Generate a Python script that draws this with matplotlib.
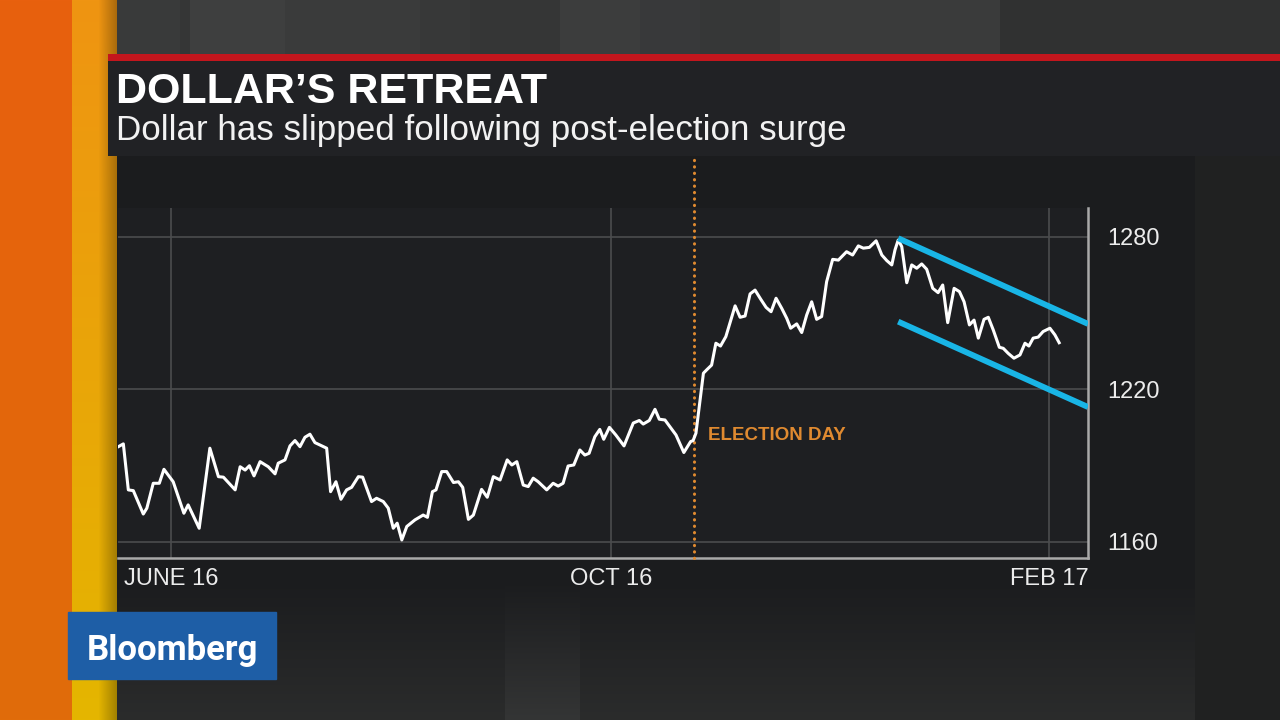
import numpy as np
import matplotlib
matplotlib.use('Agg')
import matplotlib.pyplot as plt
import matplotlib.dates as mdates
from matplotlib.colors import to_rgb
from matplotlib.patches import Rectangle

# Bloomberg dollar spot index (days counted from 2016-05-31)
start_date = '2016-05-31'
day_offsets = [
    0.1, 1.5, 2.9, 4.3, 7.1, 8.1, 9.9, 11.6, 12.9, 15.5, 18.5, 19.7, 22.8, 25.8,
    28.2, 29.6, 32.9, 34.3, 35.7, 36.9, 38.2, 39.9, 42.2, 44.1, 45.0, 46.9, 48.3,
    49.7, 51.1, 52.5, 53.9, 55.3, 58.6, 59.7, 61.2, 62.6, 64.2, 65.6, 67.5, 68.7,
    71.2, 72.6, 74.5, 75.9, 77.3, 78.4, 79.7, 81.1, 83.4, 85.7, 86.9, 88.3, 89.3,
    90.9, 92.3, 94.2, 95.6, 96.8, 98.4, 99.8, 102.1, 103.7, 105.4, 107.3, 109.3,
    110.6, 112.0, 113.8, 115.2, 116.6, 118.0, 120.4, 122.2, 123.6, 125.0, 126.4,
    128.0, 129.7, 131.1, 132.3, 133.9, 135.3, 136.4, 138.0, 139.8, 142.1, 144.7,
    146.4, 147.5, 149.2, 150.8, 152.0, 153.6, 156.7, 158.9, 160.8, 161.5, 162.3,
    164.4, 165.3, 166.7, 167.9, 169.2, 170.7, 172.1, 173.3, 174.7, 176.1, 177.5,
    178.9, 180.5, 182.0, 183.4, 184.8, 186.4, 187.8, 188.9, 190.6, 192.0, 193.4,
    194.8, 196.2, 197.6, 199.0, 200.7, 202.3, 204.6, 206.3, 207.9, 209.3, 211.0,
    212.9, 214.5, 215.9, 217.3, 218.2, 219.1, 220.1, 221.5, 222.9, 224.3, 225.7,
    227.1, 228.8, 230.3, 231.6, 233.0, 234.8, 236.3, 237.6, 239.1, 240.4, 241.6,
    243.2, 244.4, 245.8, 247.5, 248.6, 250.0, 251.6, 253.3, 254.7, 255.8, 257.0,
    258.4, 259.8, 261.7, 263.1, 264.3,
]
dollar_index = [
    1197.5, 1198.6, 1180.5, 1180.2, 1171.0, 1173.3, 1183.1, 1183.1, 1188.6, 1183.7,
    1171.3, 1174.6, 1165.4, 1196.9, 1185.7, 1185.5, 1180.5, 1189.6, 1188.3, 1190.0,
    1186.0, 1191.6, 1189.6, 1186.8, 1191.0, 1192.3, 1197.8, 1199.9, 1197.5, 1201.2,
    1202.4, 1199.1, 1196.9, 1179.8, 1183.7, 1176.8, 1180.5, 1181.5, 1185.7, 1185.5,
    1175.9, 1177.2, 1175.9, 1173.3, 1165.4, 1167.4, 1160.8, 1166.1, 1168.7, 1170.6,
    1169.7, 1179.8, 1180.5, 1187.7, 1187.7, 1183.4, 1183.7, 1181.5, 1168.9, 1170.6,
    1180.7, 1177.6, 1185.7, 1184.4, 1192.3, 1190.3, 1191.6, 1182.4, 1181.8, 1185.1,
    1183.7, 1180.5, 1183.1, 1182.0, 1183.1, 1189.9, 1190.3, 1196.2, 1194.2, 1194.9,
    1201.4, 1204.3, 1200.4, 1205.1, 1202.1, 1197.8, 1206.8, 1207.8, 1206.4, 1207.8,
    1212.2, 1208.3, 1208.0, 1202.1, 1195.2, 1199.5, 1199.9, 1202.8, 1226.4, 1227.7,
    1229.6, 1238.2, 1237.1, 1240.8, 1247.3, 1252.9, 1248.4, 1248.9, 1257.6, 1259.1,
    1255.5, 1252.3, 1250.6, 1255.9, 1251.9, 1248.0, 1244.1, 1245.8, 1242.4, 1249.3,
    1254.5, 1247.6, 1248.7, 1262.4, 1271.2, 1270.9, 1274.2, 1272.9, 1276.5, 1275.6,
    1275.9, 1278.5, 1272.9, 1270.7, 1269.0, 1274.9, 1278.8, 1276.2, 1262.0, 1269.0,
    1267.7, 1269.4, 1267.3, 1259.8, 1258.1, 1261.1, 1246.3, 1259.8, 1258.5, 1254.5,
    1245.4, 1247.3, 1240.2, 1247.6, 1248.4, 1243.4, 1236.6, 1236.2, 1234.2, 1232.3,
    1233.6, 1238.2, 1237.1, 1240.2, 1240.6, 1242.8, 1244.1, 1241.5, 1238.4,
]

# downward channel drawn over the post-peak decline
channel_days = [219.1, 272.4]
channel_top = [1279.5, 1245.8]
channel_bottom = [1246.7, 1213.1]

election_date = '2016-11-08 18:00'
election_label_value = 1201.7
tick_dates = ['2016-06-15', '2016-10-16 12:00', '2017-02-16 12:00']
tick_labels = ['JUNE 16', 'OCT 16', 'FEB 17']
y_ticks = [1160, 1220, 1280]

W, H = 1280, 720
plt.rcParams['font.family'] = ['Liberation Sans', 'DejaVu Sans']

fig = plt.figure(figsize=(W / 100, H / 100), dpi=100)

# ---- TV-graphic background (pixel coordinates) ----
bg = fig.add_axes([0, 0, 1, 1], zorder=0)
bg.set_xlim(0, W)
bg.set_ylim(H, 0)
bg.axis('off')

img = np.zeros((H, W, 3))
img[:] = to_rgb('#2a2b2c')
t = np.linspace(0, 1, H)[:, None]

# grey stripes in the top band
stripe_x = [110, 180, 190, 285, 420, 470, 560, 640, 700, 780, 1000, 1280]
stripe_c = ['#393a3a', '#353636', '#3e3f3f', '#3a3b3b', '#373838', '#353636',
            '#3c3d3d', '#38393a', '#363737', '#3a3b3b', '#303131']
for x_a, x_b, c in zip(stripe_x[:-1], stripe_x[1:], stripe_c):
    img[:54, x_a:x_b] = to_rgb(c)

# orange and yellow strips on the left
o_top, o_bot = np.array(to_rgb('#e8600e')), np.array(to_rgb('#e06c0a'))
img[:, 0:72] = (o_top + (o_bot - o_top) * t)[:, None, :]
y_top, y_bot = np.array(to_rgb('#ef9412')), np.array(to_rgb('#e4b600'))
strip = (y_top + (y_bot - y_top) * t)[:, None, :]
shade = np.clip(1 - (np.arange(72, 117) - 98) / 19 * 0.3, 0.7, 1.0)[None, :, None]
img[:, 72:117] = strip * shade

# red rule, title panel, chart panel
img[54:61, 108:] = to_rgb('#c3161d')
img[61:156, 108:] = to_rgb('#212225')
p_top, p_bot = np.array(to_rgb('#1b1c1e')), np.array(to_rgb('#2b2c2c'))
ramp = np.clip((np.arange(H) - 580) / 140, 0, 1)[:, None]
img[156:, 117:1195] = (p_top + (p_bot - p_top) * ramp)[156:, None, :]
band = np.array(to_rgb('#343535'))
img[156:, 505:580] = (p_top + (band - p_top) * ramp)[156:, None, :]
img[156:, 1195:] = to_rgb('#202121')

bg.imshow(img, extent=(0, W, H, 0), aspect='auto', interpolation='bilinear')

bg.text(116, 103, 'DOLLAR\u2019S RETREAT', color='white', fontsize=31,
        fontweight='bold', va='baseline', ha='left')
bg.text(116, 140, 'Dollar has slipped following post-election surge', color='#f2f2f2',
        fontsize=25.2, va='baseline', ha='left')

bg.add_patch(Rectangle((68, 612), 208, 67, color='#1e5ea6', zorder=3))
bg.text(172, 660, 'Bloomberg', color='white', fontsize=25, fontweight='bold',
        family=['Roboto', 'DejaVu Sans'], ha='center', va='baseline', zorder=4)

# ---- the chart ----
x0 = mdates.datestr2num(start_date)
xs = x0 + np.array(day_offsets)
x_election = mdates.datestr2num(election_date)

ax = fig.add_axes([118 / W, 1 - 558 / H, (1088 - 118) / W, (558 - 208) / H], zorder=2)
ax.set_facecolor('#1e1f22')
ax.set_xlim(x0, x0 + 272.4)
ax.set_ylim(1153.7, 1291.4)

ax.set_xticks([mdates.datestr2num(d) for d in tick_dates])
ax.set_xticklabels(tick_labels)
ax.set_yticks(y_ticks)
ax.yaxis.tick_right()
ax.tick_params(axis='both', length=0, labelsize=17, labelcolor='#ececec')
ax.tick_params(axis='x', pad=7)
ax.tick_params(axis='y', pad=14)
ax.grid(True, color='#4b4c4e', lw=1.2)
ax.set_axisbelow(True)

for side in ['top', 'left']:
    ax.spines[side].set_visible(False)
for side in ['right', 'bottom']:
    ax.spines[side].set_color('#a9a9a9')
    ax.spines[side].set_linewidth(1.8)

ax.axvline(x_election, ymin=0, ymax=(558 - 155) / (558 - 208), color='#e08a30',
           lw=2.2, linestyle=(0, (0.1, 2.0)), dash_capstyle='round', clip_on=False, zorder=3)
ax.annotate('ELECTION DAY', xy=(x_election, election_label_value), xytext=(10, 0),
            textcoords='offset points', color='#e08a30', fontsize=13.5,
            fontweight='bold', va='center', ha='left')

ax.plot(xs, dollar_index, color='white', lw=2.2, solid_joinstyle='round', zorder=4)

cx = x0 + np.array(channel_days)
ax.plot(cx, channel_top, color='#19b5e6', lw=4.2, solid_capstyle='butt', zorder=5)
ax.plot(cx, channel_bottom, color='#19b5e6', lw=4.2, solid_capstyle='butt', zorder=5)

fig.savefig('out.png', dpi=100, facecolor=fig.get_facecolor())
